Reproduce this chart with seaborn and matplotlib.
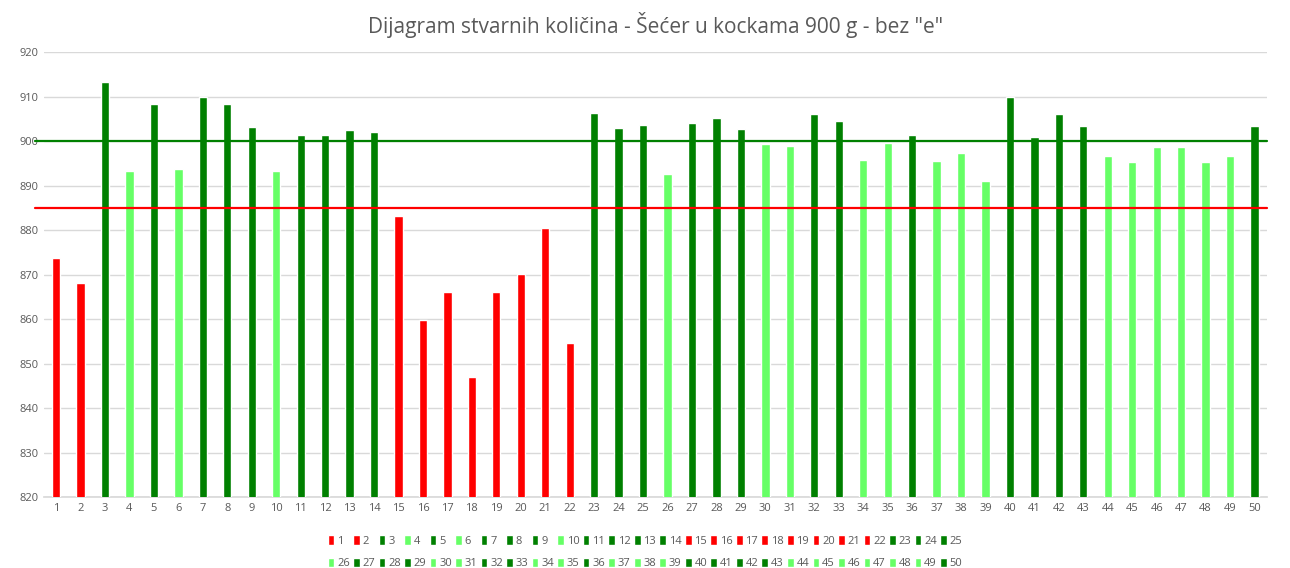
import matplotlib
matplotlib.use("Agg")
import matplotlib.pyplot as plt
from matplotlib.patches import Patch
import seaborn as sns
import pandas as pd

# uzorci 1..50 i izmjerene kolicine (g)
uzorak = [str(i) for i in range(1, 51)]
kolicina = [873.7, 868.1, 913.3, 893.3, 908.3, 893.7, 909.9, 908.3, 903.1, 893.3,
            901.3, 901.3, 902.5, 902.0, 883.1, 859.8, 866.1, 847.0, 866.1, 870.1,
            880.4, 854.6, 906.3, 902.9, 903.6, 892.6, 904.0, 905.2, 902.7, 899.3,
            898.9, 906.1, 904.5, 895.7, 899.6, 901.3, 895.5, 897.3, 891.0, 909.9,
            900.9, 906.1, 903.4, 896.6, 895.3, 898.7, 898.7, 895.3, 896.6, 903.4]
# R = ispod T1, L = izmedju T1 i nazivne, D = iznad nazivne
status = ['R', 'R', 'D', 'L', 'D', 'L', 'D', 'D', 'D', 'L',
          'D', 'D', 'D', 'D', 'R', 'R', 'R', 'R', 'R', 'R',
          'R', 'R', 'D', 'D', 'D', 'L', 'D', 'D', 'D', 'L',
          'L', 'D', 'D', 'L', 'L', 'D', 'L', 'L', 'L', 'D',
          'D', 'D', 'D', 'L', 'L', 'L', 'L', 'L', 'L', 'D']
boje = {'R': '#FF0000', 'D': '#008000', 'L': '#66FF66'}
nazivna = 900
donja_granica = 885

df = pd.DataFrame({'uzorak': uzorak, 'kolicina': kolicina})
paleta = {u: boje[s] for u, s in zip(uzorak, status)}

sns.set_theme(style="white")
plt.rcParams['font.family'] = ['Open Sans', 'DejaVu Sans']

fig = plt.figure(figsize=(12.9, 5.68), dpi=100)
ax = fig.add_axes([0.034, 0.125, 0.948, 0.783])

sns.barplot(data=df, x='uzorak', y='kolicina', hue='uzorak', palette=paleta,
            width=0.34, dodge=False, saturation=1, errorbar=None, ax=ax,
            legend=False, zorder=3)

ax.set_ylim(820, 920)
ax.set_xlim(-0.5, len(uzorak) - 0.5)
ax.set_yticks(range(820, 921, 10))
ax.grid(axis='y', color='#d9d9d9', linewidth=1, zorder=0)
ax.set_axisbelow(True)
for s in ['top', 'right', 'left']:
    ax.spines[s].set_visible(False)
ax.spines['bottom'].set_color('#d9d9d9')

ax.axhline(nazivna, xmin=-0.007, xmax=1.0, color='#008000', linewidth=1.6,
           zorder=4, clip_on=False)
ax.axhline(donja_granica, xmin=-0.007, xmax=1.0, color='#FF0000', linewidth=1.6,
           zorder=4, clip_on=False)

ax.set_xlabel('')
ax.set_ylabel('')
ax.tick_params(axis='both', labelsize=8, labelcolor='#595959', length=0, pad=4)

ax.set_title('Dijagram stvarnih količina - Šećer u kockama 900 g - bez "e"',
             fontsize=15, color='#595959', pad=14)

# legenda u dva reda: 1-25 gore, 26-50 dolje
handles = [Patch(facecolor=paleta[u]) for u in uzorak]
labels = list(uzorak)
n = 25
h2, l2 = [], []
for i in range(n):
    h2 += [handles[i], handles[i + n]]
    l2 += [labels[i], labels[i + n]]
leg = fig.legend(h2, l2, ncol=n, loc='lower center', bbox_to_anchor=(0.5, -0.016),
                 frameon=False, fontsize=8, handlelength=0.6, handleheight=1.0,
                 handletextpad=0.25, columnspacing=0.3, labelspacing=0.95,
                 borderpad=0.2)
for t in leg.get_texts():
    t.set_color('#595959')

fig.savefig('out.png', dpi=100)
